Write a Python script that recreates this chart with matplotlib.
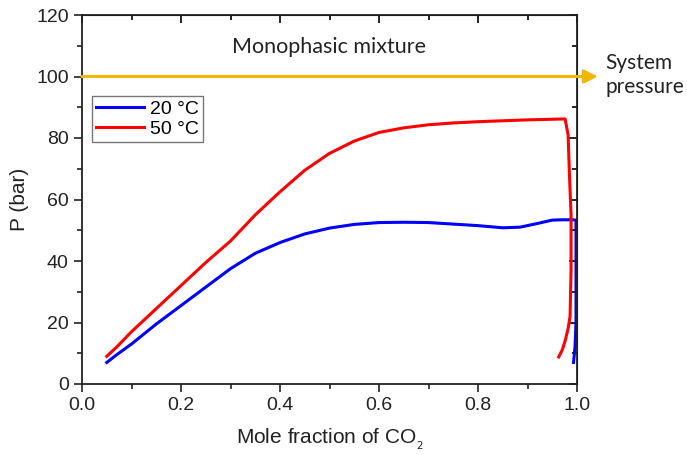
import matplotlib
matplotlib.use("Agg")
import matplotlib.pyplot as plt

plt.rcParams['font.family'] = ['Liberation Sans', 'DejaVu Sans']

# 20 C isotherm (bubble branch then dew branch near x=1)
x_20 = [0.05, 0.07, 0.10, 0.15, 0.20, 0.25, 0.30, 0.35, 0.40, 0.45, 0.50, 0.55, 0.60,
        0.65, 0.70, 0.75, 0.80, 0.85, 0.885, 0.92, 0.95, 0.97, 0.99, 0.998, 0.998, 0.996, 0.993]
p_20 = [7.0, 9.5, 13.0, 19.5, 25.5, 31.5, 37.5, 42.5, 46.0, 48.8, 50.7, 51.9, 52.5,
        52.6, 52.5, 52.0, 51.5, 50.8, 51.0, 52.2, 53.3, 53.4, 53.4, 53.3, 20.0, 12.0, 7.0]

# 50 C isotherm
x_50 = [0.05, 0.07, 0.10, 0.15, 0.20, 0.25, 0.30, 0.35, 0.40, 0.45, 0.50, 0.55, 0.60,
        0.65, 0.70, 0.75, 0.80, 0.85, 0.90, 0.95, 0.976, 0.982, 0.985, 0.988, 0.988, 0.986,
        0.982, 0.976, 0.970, 0.963]
p_50 = [9.0, 12.0, 17.0, 24.5, 32.0, 39.5, 46.5, 55.0, 62.5, 69.5, 75.0, 79.0, 81.8,
        83.3, 84.3, 84.9, 85.3, 85.6, 85.9, 86.1, 86.2, 81.0, 67.0, 55.0, 37.0, 22.0,
        18.0, 14.0, 11.0, 8.8]

fig = plt.figure(figsize=(6.87, 4.55), dpi=100)
ax = fig.add_axes([82 / 687, 1 - 384 / 455, 495 / 687, 369 / 455])

ax.plot(x_20, p_20, color='#0000ff', lw=2.2, label='20 \u00b0C')
ax.plot(x_50, p_50, color='#ff0000', lw=2.2, label='50 \u00b0C')

ax.set_xlim(0, 1.0)
ax.set_ylim(0, 120)
ax.set_xticks([0.0, 0.2, 0.4, 0.6, 0.8, 1.0])
ax.set_xticks([0.1, 0.3, 0.5, 0.7, 0.9], minor=True)
ax.set_yticks([0, 20, 40, 60, 80, 100, 120])
ax.set_yticks([10, 30, 50, 70, 90, 110], minor=True)
ax.xaxis.set_major_formatter(plt.FormatStrFormatter('%.1f'))
ax.tick_params(which='both', direction='out', labelsize=14, colors='#222222', width=1.2)
ax.tick_params(which='major', length=6)
ax.tick_params(which='minor', length=3.5)
for s in ax.spines.values():
    s.set_linewidth(1.3)
    s.set_color('#222222')

# mirrored ticks on top and right, pointing inward
top = ax.secondary_xaxis('top')
top.set_xticks([0.0, 0.2, 0.4, 0.6, 0.8, 1.0])
top.set_xticks([0.1, 0.3, 0.5, 0.7, 0.9], minor=True)
top.tick_params(which='both', direction='in', labeltop=False, width=1.2)
top.tick_params(which='major', length=6)
top.tick_params(which='minor', length=3.5)
right = ax.secondary_yaxis('right')
right.set_yticks([0, 20, 40, 60, 80, 100, 120])
right.set_yticks([10, 30, 50, 70, 90, 110], minor=True)
right.tick_params(which='both', direction='in', labelright=False, width=1.2)
right.tick_params(which='major', length=6)
right.tick_params(which='minor', length=3.5)

ax.set_xlabel('Mole fraction of CO$_{_2}$', fontsize=15, color='#222222', labelpad=9)
ax.set_ylabel('P (bar)', fontsize=15, color='#222222', labelpad=5)

# system pressure arrow
ax.annotate('', xy=(1.042, 100), xytext=(0.0, 100), xycoords='data',
            annotation_clip=False,
            arrowprops=dict(arrowstyle='-|>,head_length=0.8,head_width=0.4',
                            color='#f2b600', lw=2.2, shrinkA=0, shrinkB=0))
ax.text(1.057, 100.5, 'System\npressure', fontsize=15, family=['Lato', 'DejaVu Sans'],
        color='#222222', va='center', ha='left', linespacing=1.3, clip_on=False)
ax.text(0.5, 109.5, 'Monophasic mixture', fontsize=15.5, family=['Lato', 'DejaVu Sans'],
        color='#222222', ha='center', va='center')

leg = ax.legend(loc='upper left', bbox_to_anchor=(0.02, 0.78), fontsize=14,
                frameon=True, fancybox=False, edgecolor='#555555',
                handlelength=2.5, handletextpad=0.3, borderpad=0.2,
                labelspacing=0.15, borderaxespad=0)
leg.get_frame().set_linewidth(1.0)

fig.savefig('out.png', dpi=100)
